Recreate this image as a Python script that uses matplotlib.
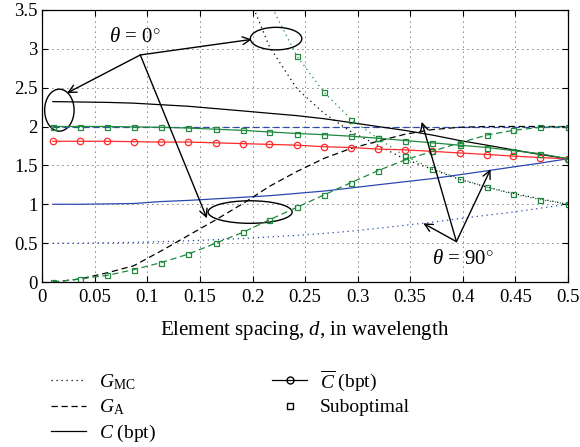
import numpy as np
import matplotlib
matplotlib.use("Agg")
import matplotlib.pyplot as plt
from matplotlib.lines import Line2D
from matplotlib.patches import Ellipse

plt.rcParams["font.family"] = ["Liberation Serif", "DejaVu Serif"]
plt.rcParams["mathtext.fontset"] = "custom"
plt.rcParams["mathtext.rm"] = "Liberation Serif"
plt.rcParams["mathtext.it"] = "Liberation Serif:italic"

# ── Data ──────────────────────────────────────────────────────────────────────
spacing = [0.010, 0.036, 0.062, 0.087, 0.113, 0.139, 0.165, 0.191, 0.216, 0.242,
           0.268, 0.294, 0.319, 0.345, 0.371, 0.397, 0.423, 0.448, 0.474, 0.500]

# theta = 0 deg (black, optimal)
gmc_0 = [50.0, 25.0, 14.0, 9.0, 6.8, 5.5, 4.6, 3.85, 3.03, 2.49,
         2.17, 1.93, 1.76, 1.58, 1.45, 1.32, 1.22, 1.14, 1.07, 1.00]
ga_0 = [0.0, 0.04, 0.12, 0.21, 0.40, 0.60, 0.80, 1.01, 1.23, 1.42,
        1.59, 1.72, 1.81, 1.90, 1.96, 1.99, 2.0, 2.0, 2.0, 2.0]
cap_0 = [2.32, 2.315, 2.31, 2.30, 2.28, 2.26, 2.23, 2.20, 2.17, 2.14,
         2.10, 2.05, 2.00, 1.95, 1.89, 1.82, 1.76, 1.70, 1.64, 1.585]

# theta = 90 deg (blue)
gmc_90 = [0.50, 0.50, 0.505, 0.51, 0.52, 0.53, 0.545, 0.56, 0.58, 0.60,
          0.625, 0.655, 0.69, 0.73, 0.77, 0.815, 0.86, 0.90, 0.95, 1.00]
ga_90 = [2.0] * 20
cap_90 = [1.0, 1.0, 1.005, 1.01, 1.035, 1.05, 1.07, 1.09, 1.11, 1.14,
          1.17, 1.21, 1.25, 1.29, 1.33, 1.38, 1.43, 1.48, 1.53, 1.585]

# mean capacity (red, circles)
cap_mean = [1.81, 1.81, 1.81, 1.805, 1.80, 1.80, 1.79, 1.78, 1.77, 1.76,
            1.74, 1.73, 1.71, 1.70, 1.68, 1.66, 1.64, 1.62, 1.60, 1.585]

# suboptimal (green, squares)
sub_gmc = [60.0, 30.0, 17.0, 11.0, 8.5, 6.8, 5.5, 4.5, 3.6, 2.91,
           2.44, 2.09, 1.85, 1.62, 1.46, 1.33, 1.22, 1.13, 1.06, 1.00]
sub_ga = [0.0, 0.04, 0.086, 0.16, 0.25, 0.36, 0.50, 0.64, 0.80, 0.96,
          1.12, 1.28, 1.43, 1.57, 1.68, 1.79, 1.89, 1.95, 1.99, 2.0]
sub_cap = [2.0, 2.0, 2.0, 1.995, 1.99, 1.98, 1.965, 1.95, 1.93, 1.91,
           1.895, 1.875, 1.85, 1.82, 1.79, 1.76, 1.73, 1.69, 1.65, 1.585]

BLUE  = "#2b48b0"
GREEN = "#1f8a3e"
RED   = "#ff2a2a"

fig = plt.figure(figsize=(5.8, 4.47), dpi=100)
ax = fig.add_axes([0.073, 0.369, 0.906, 0.609])

lw = 0.9
ax.plot(spacing, gmc_90, color=BLUE, ls=(0, (1, 3)), lw=lw)
ax.plot(spacing, ga_90, color=BLUE, ls=(0, (5, 3)), lw=lw)
ax.plot(spacing, cap_90, color=BLUE, ls="-", lw=lw)

ax.plot(spacing, gmc_0, color="k", ls=(0, (1, 3)), lw=lw)
ax.plot(spacing, ga_0, color="k", ls=(0, (5, 3)), lw=lw)
ax.plot(spacing, cap_0, color="k", ls="-", lw=lw)

ax.plot(spacing, cap_mean, color=RED, ls="-", lw=lw, marker="o", ms=4.6,
        mfc="none", mew=0.9)

sq = dict(marker="s", ms=3.6, mfc="none", mew=0.9, color=GREEN, lw=lw)
ax.plot(spacing, sub_gmc, ls=(0, (1, 3)), **sq)
ax.plot(spacing, sub_ga, ls=(0, (5, 3)), **sq)
ax.plot(spacing, sub_cap, ls="-", **sq)

ax.set_xlim(0, 0.5)
ax.set_ylim(0, 3.5)
ax.set_xticks(np.arange(0, 0.51, 0.05))
ax.set_xticklabels(["0", "0.05", "0.1", "0.15", "0.2", "0.25", "0.3",
                    "0.35", "0.4", "0.45", "0.5"])
ax.set_yticks(np.arange(0, 3.51, 0.5))
ax.set_yticklabels(["0", "0.5", "1", "1.5", "2", "2.5", "3", "3.5"])
ax.tick_params(direction="in", top=True, right=True, labelsize=13.5,
               length=4, width=0.8)
ax.tick_params(axis="x", pad=5)
ax.grid(True, color="k", ls=(0, (1, 5)), lw=0.6)
for s in ax.spines.values():
    s.set_linewidth(0.9)
ax.set_xlabel("Element spacing, $d$, in wavelength", fontsize=15, labelpad=9)

# annotations: theta = 0
ell_kw = dict(fill=False, ec="k", lw=1.0)
ax.add_patch(Ellipse((0.2224, 3.13), 0.049, 0.29, **ell_kw))
ax.add_patch(Ellipse((0.0162, 2.21), 0.028, 0.54, **ell_kw))
ax.add_patch(Ellipse((0.1977, 0.90), 0.080, 0.29, **ell_kw))

arr = dict(arrowstyle="->", lw=1.0, color="k", shrinkA=0, shrinkB=0,
           mutation_scale=14)
v0 = (0.0932, 2.92)
for tgt in [(0.0235, 2.43), (0.1993, 3.12), (0.1566, 0.82)]:
    ax.annotate("", xy=tgt, xytext=v0, arrowprops=arr)
ax.text(0.088, 3.15, r"$\theta$ = 0$^{\circ}$", fontsize=15, ha="center", va="center")

v90 = (0.394, 0.52)
for tgt in [(0.361, 2.06), (0.4265, 1.45), (0.3625, 0.755)]:
    ax.annotate("", xy=tgt, xytext=v90, arrowprops=arr)
ax.text(0.40, 0.29, r"$\theta$ = 90$^{\circ}$", fontsize=15, ha="center", va="center")

handles = [
    Line2D([], [], color="k", ls=(0, (1, 3)), lw=lw),
    Line2D([], [], color="k", ls=(0, (5, 3)), lw=lw),
    Line2D([], [], color="k", ls="-", lw=lw),
    Line2D([], [], color="k", ls="-", lw=lw, marker="o", ms=5, mfc="none"),
    Line2D([], [], color="k", ls="none", marker="s", ms=5, mfc="none"),
]
labels = [r"$G_{\mathrm{MC}}$", r"$G_{\mathrm{A}}$", r"$C$ (bpt)",
          r"$\overline{C}$ (bpt)", "Suboptimal"]
fig.legend(handles, labels, loc="upper left", bbox_to_anchor=(0.058, 0.215),
           ncol=2, frameon=False, fontsize=14, handlelength=1.8,
           columnspacing=6.0, labelspacing=0.28, handletextpad=0.65)

fig.savefig("out.png", dpi=100)
